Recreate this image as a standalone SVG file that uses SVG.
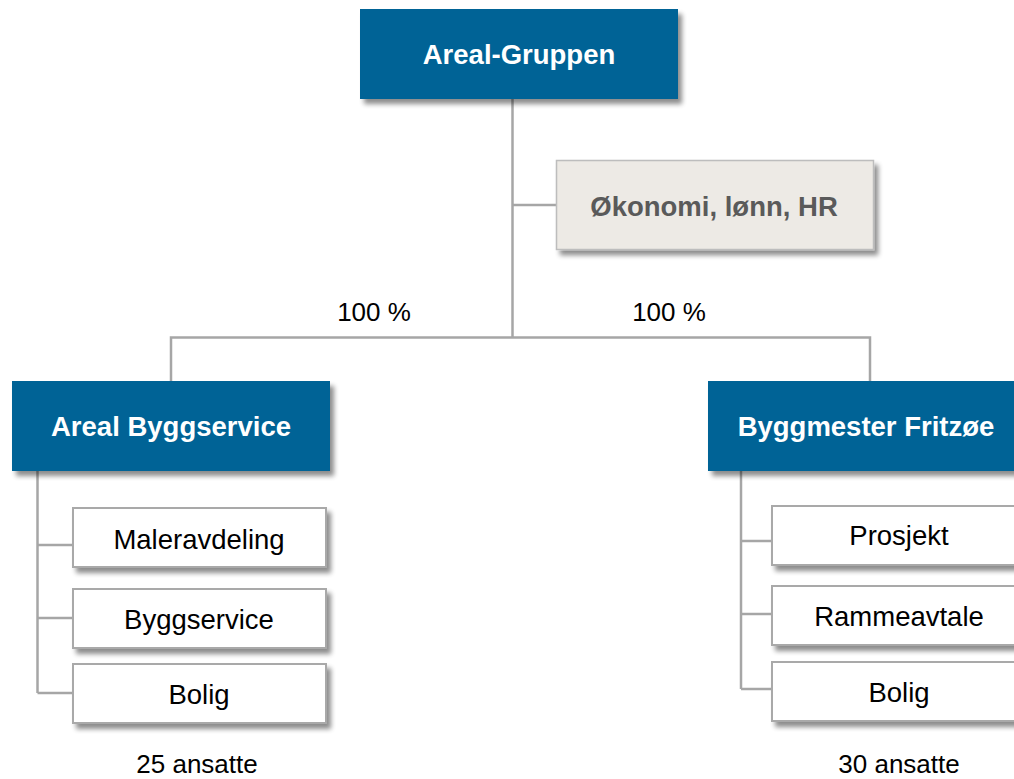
<svg xmlns="http://www.w3.org/2000/svg" width="1014" height="779" viewBox="0 0 1014 779">
<defs>
<filter id="sh" x="-10%" y="-20%" width="130%" height="150%">
<feGaussianBlur in="SourceAlpha" stdDeviation="2.5"/>
<feOffset dx="4" dy="5" result="b"/>
<feComponentTransfer><feFuncA type="linear" slope="0.45"/></feComponentTransfer>
<feMerge><feMergeNode/><feMergeNode in="SourceGraphic"/></feMerge>
</filter>
<style>
.main{fill:#006496;filter:url(#sh)}
.mt{font-family:"Liberation Sans",Arial,sans-serif;font-weight:bold;font-size:27.5px;fill:#fff;text-anchor:middle}
.sup{fill:#EDEAE5;stroke:#BDBDBD;stroke-width:1.5;filter:url(#sh)}
.supt{font-family:"Liberation Sans",Arial,sans-serif;font-weight:bold;font-size:27.5px;fill:#5A5A5A;text-anchor:middle}
.sub{fill:#fff;stroke:#A9A9A9;stroke-width:2;filter:url(#sh)}
.st{font-family:"Liberation Sans",Arial,sans-serif;font-size:27.5px;fill:#000;text-anchor:middle}
.lab{font-family:"Liberation Sans",Arial,sans-serif;font-size:26px;fill:#000;text-anchor:middle}
.con{fill:none;stroke:#A6A6A6;stroke-width:2.5}
</style>
</defs>
<rect width="1014" height="779" fill="#fff"/>
<g id="connectors">
<path class="con" d="M512.5 99V338M512.5 205H556M171 381V337.5H870V381"/>
<path class="con" d="M37.5 471V693M37.5 545H73M37.5 618H73M37.5 693H73"/>
<path class="con" d="M741 471V689M741 541H772M741 614H772M741 689H772"/>
</g>
<g id="areal-gruppen"><rect class="main" x="360" y="9" width="318" height="90"/><text class="mt" x="519" y="64">Areal-Gruppen</text></g>
<g id="okonomi"><rect class="sup" x="556.5" y="160.5" width="317" height="89"/><text class="supt" x="714" y="216">Økonomi, lønn, HR</text></g>
<g id="label-100-left"><text class="lab" x="374" y="321">100 %</text></g>
<g id="label-100-right"><text class="lab" x="669" y="321">100 %</text></g>
<g id="areal-byggservice"><rect class="main" x="12" y="381" width="318" height="90"/><text class="mt" x="171" y="436">Areal Byggservice</text></g>
<g id="byggmester-fritzoe"><rect class="main" x="708" y="381" width="318" height="90"/><text class="mt" x="866" y="436">Byggmester Fritzøe</text></g>
<g id="maleravdeling"><rect class="sub" x="73" y="508" width="253" height="59"/><text class="st" x="199" y="549">Maleravdeling</text></g>
<g id="byggservice"><rect class="sub" x="73" y="589" width="253" height="59"/><text class="st" x="199" y="629">Byggservice</text></g>
<g id="bolig-left"><rect class="sub" x="73" y="664" width="253" height="59"/><text class="st" x="199" y="704">Bolig</text></g>
<g id="prosjekt"><rect class="sub" x="772" y="506" width="254" height="59"/><text class="st" x="899" y="545">Prosjekt</text></g>
<g id="rammeavtale"><rect class="sub" x="772" y="586" width="254" height="59"/><text class="st" x="899" y="626">Rammeavtale</text></g>
<g id="bolig-right"><rect class="sub" x="772" y="662" width="254" height="59"/><text class="st" x="899" y="702">Bolig</text></g>
<g id="ansatte-left"><text class="lab" x="197" y="773">25 ansatte</text></g>
<g id="ansatte-right"><text class="lab" x="899" y="773">30 ansatte</text></g>
</svg>
